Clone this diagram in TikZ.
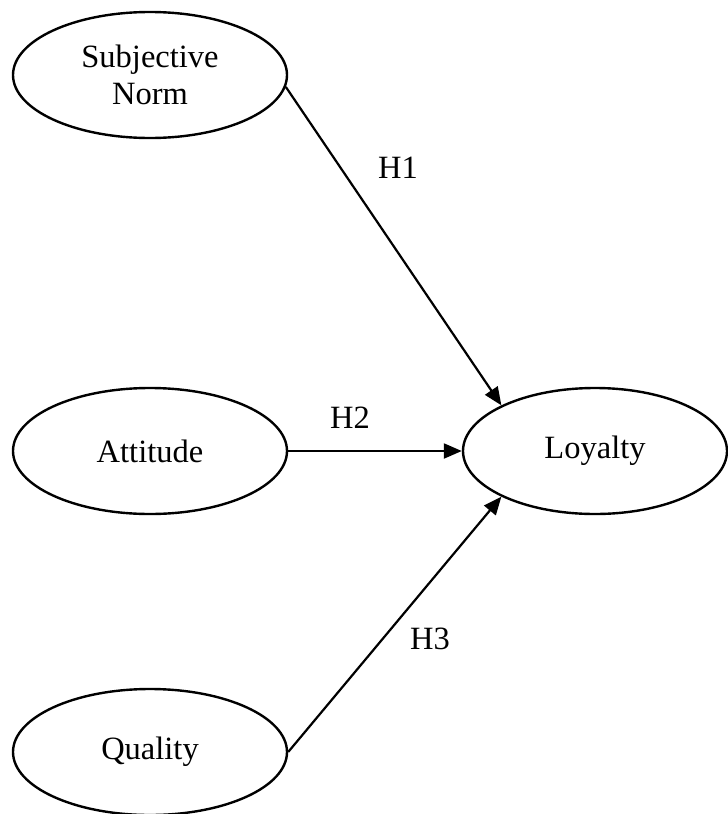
\documentclass[tikz,border=0pt]{standalone}
\usepackage{fontspec}
\setmainfont{Liberation Serif}
\usetikzlibrary{shapes.geometric,arrows.meta}
\begin{document}
\begin{tikzpicture}[x=1pt,y=-1pt,
  construct/.style={draw,ellipse,line width=2.4pt,inner sep=0pt,minimum width=274pt,minimum height=126pt,align=center,font=\fontsize{32.5}{37}\selectfont},
  path/.style={line width=2.2pt,-{Triangle[length=18pt,width=15pt]}},
  hlab/.style={font=\fontsize{32.5}{37}\selectfont,inner sep=0pt}]
\useasboundingbox (0,0) rectangle (728,814);
\node[construct] (sn) at (150,75) {Subjective\\Norm};
\node[construct] (att) at (150,451) {Attitude};
\node[construct] (qual) at (150,752) {Quality};
\node[construct,minimum width=264pt] (loy) at (595,451) {Loyalty};
\draw[path] (sn.-5) -- (loy.154);
\draw[path] (att.east) -- (loy.west);
\draw[path] (qual.east) -- (loy.206);
\node[hlab] (h1) at (398,168) {H1};
\node[hlab] (h2) at (350,418) {H2};
\node[hlab] (h3) at (430,639) {H3};
\end{tikzpicture}
\end{document}
